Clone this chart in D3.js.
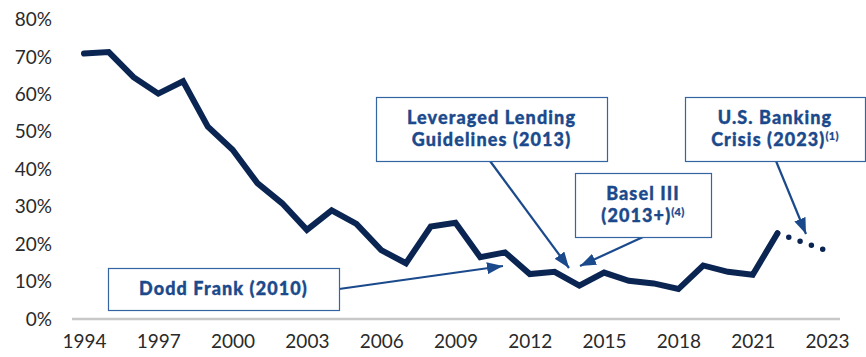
<!DOCTYPE html>
<html>
<head>
<meta charset="utf-8">
<script src="https://cdn.jsdelivr.net/npm/d3@7/dist/d3.min.js"></script>
<style>
  html, body { margin: 0; padding: 0; background: #fff; }
  svg { display: block; }
</style>
</head>
<body>
<svg id="chart" width="866" height="357"></svg>
<script>
// Periods on the x axis; "1H23" is an unlabeled interim slot before the 2023 estimate
const categories = ["1994","1995","1996","1997","1998","1999","2000","2001","2002","2003",
  "2004","2005","2006","2007","2008","2009","2010","2011","2012","2013","2014","2015",
  "2016","2017","2018","2019","2020","2021","2022","1H23","2023"];

// Historical share (solid line), 1994–2022
const historyYears = ["1994","1995","1996","1997","1998","1999","2000","2001","2002","2003",
  "2004","2005","2006","2007","2008","2009","2010","2011","2012","2013","2014","2015",
  "2016","2017","2018","2019","2020","2021","2022"];
const historyValues = [0.709, 0.713, 0.646, 0.602, 0.635, 0.514, 0.452, 0.363, 0.309, 0.238,
  0.290, 0.254, 0.184, 0.149, 0.247, 0.257, 0.165, 0.178, 0.120, 0.126, 0.089, 0.124,
  0.102, 0.095, 0.080, 0.143, 0.126, 0.118, 0.229];

// Estimated continuation (dotted line)
const estimateYears = ["2022", "2023"];
const estimateValues = [0.229, 0.182];

// Axis ticks
const yTicks = [0, 0.1, 0.2, 0.3, 0.4, 0.5, 0.6, 0.7, 0.8];
const xTickLabels = ["1994","1997","2000","2003","2006","2009","2012","2015","2018","2021","2023"];

// Annotation callouts
const annotations = [
  { lines: [["Dodd Frank (2010)"]], box: [108, 268, 231, 42], from: [339, 289], to: [503, 266] },
  { lines: [["Leveraged Lending"], ["Guidelines (2013)"]], box: [376, 97, 231, 64], from: [490, 161], to: [569, 268] },
  { lines: [["Basel III"], ["(2013+)", "(4)"]], box: [575, 173, 136, 64], from: [643, 237], to: [580, 266] },
  { lines: [["U.S. Banking"], ["Crisis (2023)", "(1)"]], box: [685, 97, 180, 64], from: [776, 161], to: [806, 234] }
];

const svg = d3.select("#chart");
const navy = "#0b2553";
const blue = "#1b4a8c";
const boxStroke = "#3564a3";
const tickFont = "Lato, 'Open Sans', sans-serif";

const x = d3.scalePoint().domain(categories).range([84, 827]);
const y = d3.scaleLinear().domain([0, 0.8]).range([319, 19.5]);

// Y axis labels (no axis line)
const yAxis = d3.axisLeft(y).tickValues(yTicks).tickFormat(d3.format(".0%")).tickSize(0).tickPadding(0);
svg.append("g")
  .attr("transform", "translate(52,0)")
  .call(yAxis)
  .call(g => g.select(".domain").remove())
  .call(g => g.selectAll("text")
    .attr("font-family", tickFont)
    .attr("font-size", 19)
    .attr("fill", "#2a2a2a"));

// X axis baseline and labels
const xAxis = d3.axisBottom(x).tickValues(xTickLabels).tickSize(0).tickPadding(16);
svg.append("g")
  .attr("transform", "translate(0,319)")
  .call(xAxis)
  .call(g => g.select(".domain").remove())
  .call(g => g.selectAll("text")
    .attr("font-family", tickFont)
    .attr("font-size", 19)
    .attr("fill", "#2a2a2a"));
svg.append("line")
  .attr("x1", 72).attr("x2", 840)
  .attr("y1", y(0)).attr("y2", y(0))
  .attr("stroke", "#c8c8c8").attr("stroke-width", 2.5);

// Series lines
const line = d3.line().x(d => x(d[0])).y(d => y(d[1]));
svg.append("path")
  .datum(d3.zip(historyYears, historyValues))
  .attr("d", line)
  .attr("fill", "none")
  .attr("stroke", navy)
  .attr("stroke-width", 6)
  .attr("stroke-linejoin", "miter")
  .attr("stroke-linecap", "round");

svg.append("path")
  .datum(d3.zip(estimateYears, estimateValues))
  .attr("d", line)
  .attr("fill", "none")
  .attr("stroke", navy)
  .attr("stroke-width", 5.5)
  .attr("stroke-linecap", "round")
  .attr("stroke-dasharray", "0 12")
  .attr("stroke-dashoffset", -12);

// Arrowhead marker
svg.append("defs").append("marker")
  .attr("id", "arrow")
  .attr("viewBox", "0 0 16 12")
  .attr("refX", 16).attr("refY", 6)
  .attr("markerWidth", 16).attr("markerHeight", 12)
  .attr("markerUnits", "userSpaceOnUse")
  .attr("orient", "auto")
  .append("path")
  .attr("d", "M0,0 L16,6 L0,12 Z")
  .attr("fill", blue);

// Callouts
const ann = svg.append("g").selectAll("g").data(annotations).join("g");
ann.append("line")
  .attr("x1", d => d.from[0]).attr("y1", d => d.from[1])
  .attr("x2", d => d.to[0]).attr("y2", d => d.to[1])
  .attr("stroke", blue).attr("stroke-width", 2.2)
  .attr("marker-end", "url(#arrow)");
ann.append("rect")
  .attr("x", d => d.box[0] + 0.5).attr("y", d => d.box[1] + 0.5)
  .attr("width", d => d.box[2]).attr("height", d => d.box[3])
  .attr("fill", "#fff").attr("stroke", boxStroke).attr("stroke-width", 1.2);
ann.each(function(d) {
  const g = d3.select(this);
  const cx = d.box[0] + d.box[2] / 2;
  const n = d.lines.length;
  const lh = 22;
  const cy = d.box[1] + d.box[3] / 2;
  d.lines.forEach((parts, i) => {
    const t = g.append("text")
      .attr("x", cx)
      .attr("y", cy + (i - (n - 1) / 2) * lh)
      .attr("dy", "0.36em")
      .attr("text-anchor", "middle")
      .attr("font-family", "Lato, 'Open Sans', sans-serif")
      .attr("font-weight", 900)
      .attr("font-size", 18)
      .attr("letter-spacing", 1.1)
      .attr("fill", blue)
      .attr("stroke", blue)
      .attr("stroke-width", 0.35);
    t.append("tspan").text(parts[0]);
    if (parts[1]) {
      t.append("tspan")
        .attr("font-size", 11)
        .attr("letter-spacing", 0.3)
        .attr("stroke-width", 0.2)
        .attr("dy", "-0.6em")
        .text(parts[1]);
    }
  });
});
</script>
</body>
</html>
